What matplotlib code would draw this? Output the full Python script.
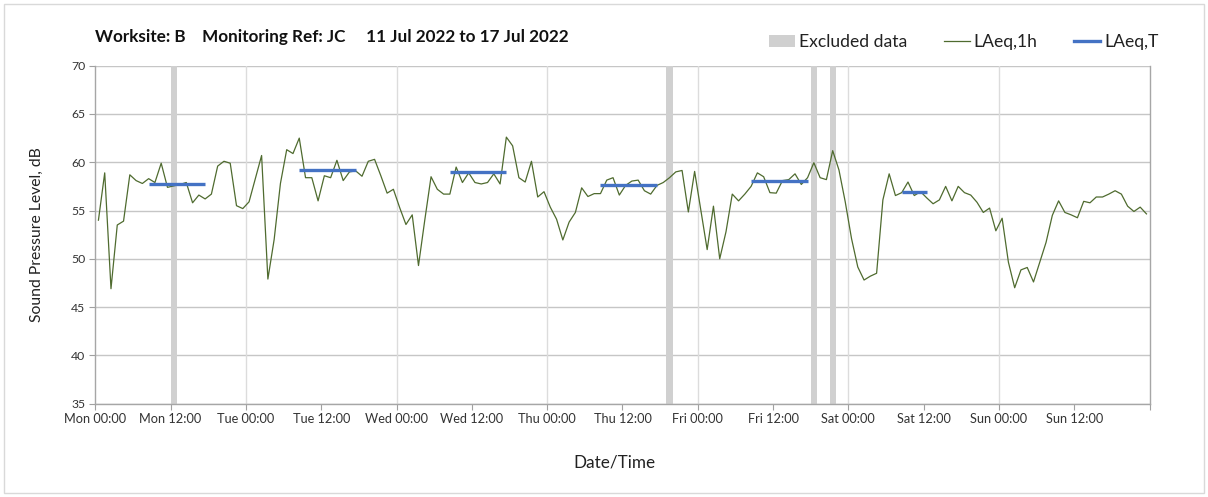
import matplotlib
matplotlib.use("Agg")
import matplotlib.pyplot as plt
from matplotlib.patches import Patch, Rectangle
from matplotlib.lines import Line2D
import numpy as np

plt.rcParams['font.family'] = ['Lato', 'DejaVu Sans']

# ---------------- data ----------------
days = ["Mon", "Tue", "Wed", "Thu", "Fri", "Sat", "Sun"]

# hourly LAeq,1h values (dB), Mon 00:00 .. Sun 23:00
laeq_1h = [
    54.0, 58.9, 46.9, 53.5, 53.9, 58.7, 58.1, 57.8, 58.3, 57.9, 59.9, 57.4,
    57.55, 57.7, 57.9, 55.8, 56.6, 56.2, 56.7, 59.6, 60.1, 59.9, 55.5, 55.2,
    55.9, 58.3, 60.7, 47.9, 52.0, 57.8, 61.3, 60.9, 62.5, 58.4, 58.4, 56.0,
    58.6, 58.4, 60.2, 58.1, 59.0, 59.1, 58.55, 60.1, 60.3, 58.6, 56.8, 57.2,
    55.3, 53.55, 54.55, 49.3, 54.0, 58.5, 57.2, 56.7, 56.7, 59.5, 57.9, 58.9,
    57.9, 57.75, 57.9, 58.8, 57.75, 62.6, 61.7, 58.4, 57.95, 60.1, 56.4, 56.95,
    55.35, 54.1, 51.95, 53.8, 54.8, 57.35, 56.45, 56.75, 56.75, 58.15, 58.4, 56.6,
    57.6, 58.05, 58.15, 57.05, 56.7, 57.6, 57.9, 58.4, 59.0, 59.15, 54.85, 59.05,
    55.0, 50.95, 55.45, 50.0, 52.8, 56.7, 56.0, 56.7, 57.5, 58.9, 58.5, 56.85,
    56.8, 58.1, 58.2, 58.8, 57.7, 58.4, 59.95, 58.4, 58.2, 61.2, 59.2, 55.9,
    52.1, 49.15, 47.8, 48.2, 48.5, 56.1, 58.8, 56.55, 56.85, 57.95, 56.55, 56.95,
    56.3, 55.7, 56.1, 57.5, 56.0, 57.5, 56.85, 56.6, 55.85, 54.8, 55.25, 52.9,
    54.2, 49.65, 47.0, 48.85, 49.1, 47.6, 49.65, 51.7, 54.5, 56.0, 54.8, 54.55,
    54.25, 55.95, 55.8, 56.4, 56.4, 56.7, 57.05, 56.7, 55.45, 54.9, 55.35, 54.65,
]
hours = np.arange(len(laeq_1h)) + 0.5  # hour-centred timestamps

# LAeq,T daytime periods (start hour, end hour, level)
laeqT_start = [8.5, 32.5, 56.5, 80.5, 104.5, 128.5]
laeqT_end = [17.5, 41.5, 65.5, 89.5, 113.5, 132.5]
laeqT_value = [57.7, 59.2, 59.0, 57.6, 58.1, 56.95]

# excluded data periods (start hour, end hour)
excl_start = [12, 91, 114, 117]
excl_end = [13, 92, 115, 118]

title = "Worksite: B    Monitoring Ref: JC     11 Jul 2022 to 17 Jul 2022"

# ---------------- figure ----------------
W, H = 1208, 497
fig = plt.figure(figsize=(W / 100, H / 100), dpi=100)
fig.patch.set_facecolor("white")
fig.add_artist(Rectangle((4 / W, 4 / H), 1 - 8 / W, 1 - 8 / H, transform=fig.transFigure,
                         fill=False, edgecolor="#d9d9d9", linewidth=1))

ax = fig.add_axes([95.3 / W, 1 - 403.6 / H, (1149.6 - 95.3) / W, (403.6 - 65.7) / H])

grey_band = "#d0d0d0"
green = "#4f6b2f"
blue = "#4472c4"

for s, e in zip(excl_start, excl_end):
    ax.axvspan(s, e, color=grey_band, lw=0, zorder=1)

# gridlines
for yv in range(35, 71, 5):
    ax.axhline(yv, color="#c6c6c6", lw=1.0, zorder=0)
for d in range(1, 7):
    ax.axvline(d * 24, color="#dcdcdc", lw=1.0, zorder=0)

ax.plot(hours, laeq_1h, color=green, lw=0.9, zorder=3)
for s, e, v in zip(laeqT_start, laeqT_end, laeqT_value):
    ax.plot([s, e], [v, v], color=blue, lw=2.4, solid_capstyle="butt", zorder=4)

ax.set_xlim(0, 168)
ax.set_ylim(35, 70)

xt = np.arange(0, 168, 12)
ax.set_xticks(list(xt) + [168])
xlabels = []
for t in xt:
    xlabels.append(f"{days[int(t // 24)]} {'00:00' if t % 24 == 0 else '12:00'}")
ax.set_xticklabels(xlabels + [""], fontsize=9.2, color="#333333")
ax.set_yticks(range(35, 71, 5))
ax.set_yticklabels([str(v) for v in range(35, 71, 5)], fontsize=8.8, color="#333333")
ax.tick_params(axis="both", direction="out", length=4, width=0.8, color="#a0a0a0", pad=3)

for sp in ["left", "bottom", "right"]:
    ax.spines[sp].set_color("#a6a6a6")
    ax.spines[sp].set_linewidth(1.0)
ax.spines["top"].set_visible(False)

ax.set_ylabel("Sound Pressure Level, dB", fontsize=11.3, color="#222222", labelpad=20)
fig.text(614 / W, 1 - 462 / H, "Date/Time", fontsize=12.3, color="#222222", ha="center", va="center")

fig.text(95 / W, 1 - 37 / H, title, fontsize=12.3, fontweight="bold", color="#111111",
         ha="left", va="center")

handles = [Patch(facecolor=grey_band, edgecolor="none"),
           Line2D([0], [0], color=green, lw=0.9),
           Line2D([0], [0], color=blue, lw=2.4)]
labels = ["Excluded data", "LAeq,1h", "LAeq,T"]
fig.legend(handles, labels, loc="center right", bbox_to_anchor=(1174 / W, 1 - 42 / H), ncol=3,
           frameon=False, fontsize=12.6, handlelength=1.5, handletextpad=0.2, columnspacing=2.1,
           labelcolor="#222222")

fig.savefig("out.png", dpi=100)
